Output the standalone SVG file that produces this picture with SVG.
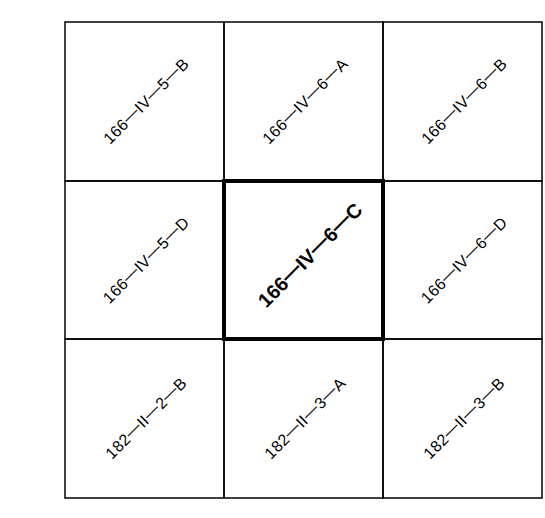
<svg xmlns="http://www.w3.org/2000/svg" width="545" height="518" viewBox="0 0 545 518">
<style>
.cell{fill:none;stroke:#000;stroke-width:1.5}
.hl{fill:none;stroke:#000;stroke-width:4}
.lbl{font-family:"Liberation Sans",Arial,sans-serif;font-size:16px;letter-spacing:0.4px;fill:#000;text-anchor:middle}
.main{font-family:"Liberation Sans",Arial,sans-serif;font-size:20px;font-weight:bold;fill:#000;text-anchor:middle}
</style>
<rect width="545" height="518" fill="#fff"/>
<g id="n1"><rect class="cell" x="65" y="22" width="159" height="159"/><text class="lbl" transform="translate(150,105) rotate(-45)">166<tspan dy="-1.5">—</tspan><tspan dy="1.5">IV</tspan><tspan dy="-1.5">—</tspan><tspan dy="1.5">5</tspan><tspan dy="-1.5">—</tspan><tspan dy="1.5">B</tspan></text></g>
<g id="n2"><rect class="cell" x="224" y="22" width="159" height="159"/><text class="lbl" transform="translate(309,105) rotate(-45)">166<tspan dy="-1.5">—</tspan><tspan dy="1.5">IV</tspan><tspan dy="-1.5">—</tspan><tspan dy="1.5">6</tspan><tspan dy="-1.5">—</tspan><tspan dy="1.5">A</tspan></text></g>
<g id="n3"><rect class="cell" x="383" y="22" width="159" height="159"/><text class="lbl" transform="translate(468,105) rotate(-45)">166<tspan dy="-1.5">—</tspan><tspan dy="1.5">IV</tspan><tspan dy="-1.5">—</tspan><tspan dy="1.5">6</tspan><tspan dy="-1.5">—</tspan><tspan dy="1.5">B</tspan></text></g>
<g id="n4"><rect class="cell" x="65" y="181" width="159" height="158"/><text class="lbl" transform="translate(150,264) rotate(-45)">166<tspan dy="-1.5">—</tspan><tspan dy="1.5">IV</tspan><tspan dy="-1.5">—</tspan><tspan dy="1.5">5</tspan><tspan dy="-1.5">—</tspan><tspan dy="1.5">D</tspan></text></g>
<g id="n6"><rect class="cell" x="383" y="181" width="159" height="158"/><text class="lbl" transform="translate(468,264) rotate(-45)">166<tspan dy="-1.5">—</tspan><tspan dy="1.5">IV</tspan><tspan dy="-1.5">—</tspan><tspan dy="1.5">6</tspan><tspan dy="-1.5">—</tspan><tspan dy="1.5">D</tspan></text></g>
<g id="n7"><rect class="cell" x="65" y="339" width="159" height="159"/><text class="lbl" transform="translate(150,422) rotate(-45)">182<tspan dy="-1.5">—</tspan><tspan dy="1.5">II</tspan><tspan dy="-1.5">—</tspan><tspan dy="1.5">2</tspan><tspan dy="-1.5">—</tspan><tspan dy="1.5">B</tspan></text></g>
<g id="n8"><rect class="cell" x="224" y="339" width="159" height="159"/><text class="lbl" transform="translate(309,422) rotate(-45)">182<tspan dy="-1.5">—</tspan><tspan dy="1.5">II</tspan><tspan dy="-1.5">—</tspan><tspan dy="1.5">3</tspan><tspan dy="-1.5">—</tspan><tspan dy="1.5">A</tspan></text></g>
<g id="n9"><rect class="cell" x="383" y="339" width="159" height="159"/><text class="lbl" transform="translate(468,422) rotate(-45)">182<tspan dy="-1.5">—</tspan><tspan dy="1.5">II</tspan><tspan dy="-1.5">—</tspan><tspan dy="1.5">3</tspan><tspan dy="-1.5">—</tspan><tspan dy="1.5">B</tspan></text></g>
<g id="n5"><rect class="hl" x="224" y="181" width="159" height="158"/><text class="main" transform="translate(315,260) rotate(-45)">166<tspan dy="-2">—</tspan><tspan dy="2">IV</tspan><tspan dy="-2">—</tspan><tspan dy="2">6</tspan><tspan dy="-2">—</tspan><tspan dy="2">C</tspan></text></g>
<g id="connectors"/>
</svg>
